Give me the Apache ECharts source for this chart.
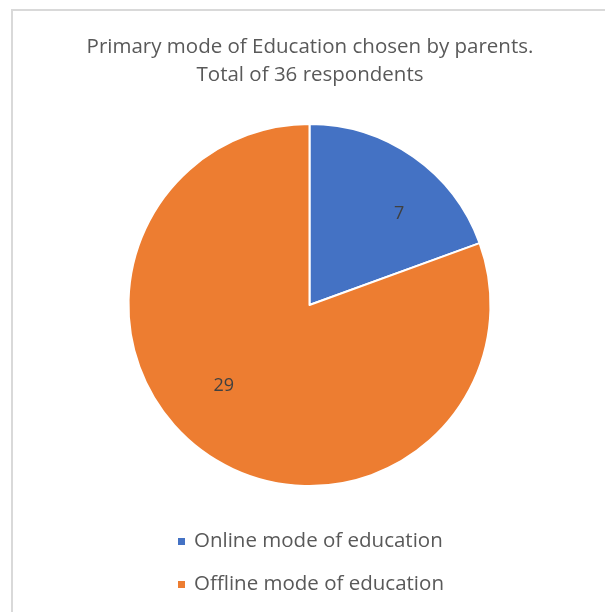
<!DOCTYPE html>
<html>
<head>
<meta charset="utf-8">
<script src="https://cdn.jsdelivr.net/npm/echarts@6/dist/echarts.min.js"></script>
<style>
  html, body { margin: 0; padding: 0; background: #fff; }
  #chart { width: 605px; height: 612px; }
</style>
</head>
<body>
<div id="chart"></div>
<script>
// Survey answers: primary mode of education chosen by parents
const categories = ['Online mode of education', 'Offline mode of education'];
const counts = [7, 29];
const titleLines = ['Primary mode of Education chosen by parents.', 'Total of 36 respondents'];

const sliceColors = ['#4472C4', '#ED7D31'];
const labelOffsets = [[36, -15], [-32, 4]];

const chart = echarts.init(document.getElementById('chart'), null, { renderer: 'canvas' });
const font = '"Open Sans", "Noto Sans", sans-serif';

chart.setOption({
  animation: false,
  color: sliceColors,
  graphic: [{
    // chart-area frame: only the top and left edges fall inside the page
    type: 'polyline',
    shape: { points: [[12, 700], [12, 10], [700, 10]] },
    style: { fill: null, stroke: '#d9d9d9', lineWidth: 2 },
    silent: true
  }],
  title: {
    text: titleLines.join('\n'),
    left: 305,
    top: 28,
    textAlign: 'center',
    textStyle: {
      fontFamily: font,
      fontSize: 20.5,
      fontWeight: 'normal',
      color: '#595959',
      lineHeight: 28
    }
  },
  legend: {
    orient: 'vertical',
    left: 171,
    top: 526,
    itemWidth: 9,
    itemHeight: 9,
    itemGap: 22,
    icon: 'rect',
    textStyle: { fontFamily: font, fontSize: 20.5, color: '#595959', padding: [0, 0, 0, 3] },
    data: categories
  },
  series: [{
    type: 'pie',
    center: [309.5, 305],
    radius: [0, 181],
    startAngle: 90,
    clockwise: true,
    itemStyle: { borderColor: '#fff', borderWidth: 2 },
    label: {
      show: true,
      position: 'inside',
      formatter: '{c}',
      fontFamily: font,
      fontSize: 18,
      color: '#404040'
    },
    labelLine: { show: false },
    emphasis: { disabled: true },
    data: categories.map((name, i) => ({
      name: name,
      value: counts[i],
      label: { offset: labelOffsets[i] }
    }))
  }]
});
</script>
</body>
</html>
